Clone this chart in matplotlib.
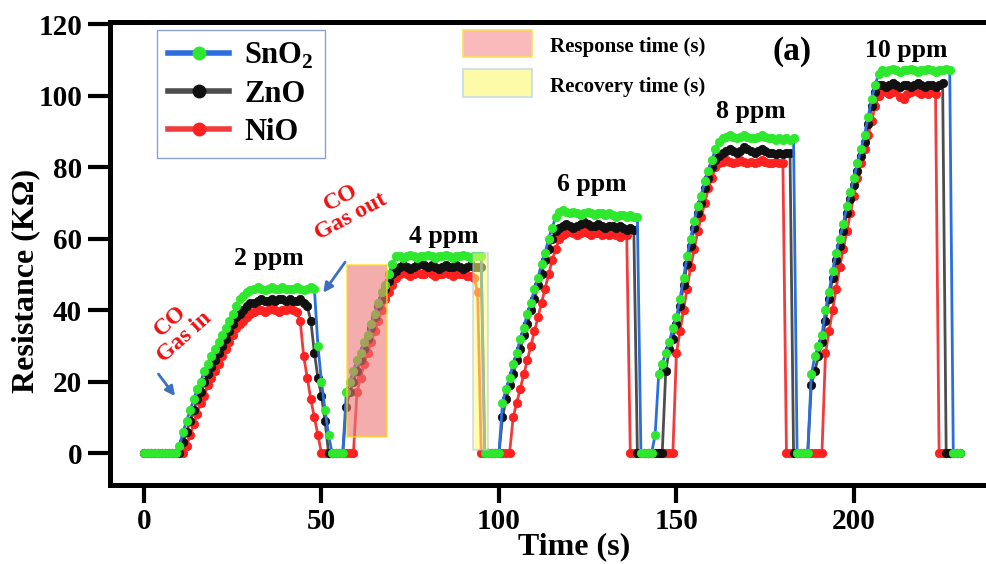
import matplotlib

matplotlib.use("Agg")
import matplotlib.pyplot as plt
import numpy as np
from matplotlib.lines import Line2D
from matplotlib.patches import Rectangle

plt.rcParams["font.family"] = ["Liberation Serif", "DejaVu Serif"]
plt.rcParams["font.weight"] = "bold"
plt.rcParams["mathtext.fontset"] = "custom"
plt.rcParams["mathtext.bf"] = "Liberation Serif:bold"
plt.rcParams["mathtext.rm"] = "Liberation Serif:bold"

# resistance (kOhm) sampled once per second, t = 0 .. 230 s
sno2 = [
    0, 0, 0, 0, 0, 0, 0, 0, 0, 0,
    2, 6, 9, 12, 15, 18, 20, 23, 25, 27,
    29, 31, 33, 35, 37, 39, 41, 43, 44, 45,
    45.5, 46, 46.5, 46, 45.5, 46, 46.5, 46, 46, 46.5,
    46, 46, 46, 46.5, 46, 45.5, 46, 46.5, 46, 30,
    20, 12, 5, 0, 0, 0, 0, 17, 20, 23,
    26, 28, 31, 33, 36, 39, 42, 45, 47, 50,
    53, 55, 55, 54.5, 55, 55.5, 55, 54.5, 55, 55,
    55.5, 55, 54.5, 55, 55, 55.5, 55, 54.5, 55, 55,
    55.5, 55, 54.5, 55, 55, 55, 0, 0, 0, 0,
    0, 14, 18, 21, 25, 28, 32, 35, 39, 42,
    46, 49, 53, 56, 60, 63, 66, 67.5, 68, 67.5,
    67, 67.5, 67, 66.5, 67, 67.5, 67, 66.5, 67, 67,
    66.5, 67, 66.5, 66, 66.5, 66.5, 66, 66.5, 66, 66,
    0, 0, 0, 0, 5, 22, 25, 28, 31, 35,
    38, 43, 49, 55, 60, 65, 69, 72, 76, 79,
    82, 85, 87, 88, 88.5, 89, 88.5, 88, 88.5, 89,
    88.5, 88, 88, 88.5, 89, 88.5, 88, 88, 87.5, 88,
    87.5, 88, 87.5, 88, 0, 0, 0, 0, 22, 27,
    30, 33, 40, 45, 51, 56, 60, 64, 69, 73,
    77, 81, 85, 89, 94, 99, 103, 106, 107, 106.5,
    107, 107.5, 107, 106.5, 107, 107, 107.5, 107, 106.5, 107,
    107, 107.5, 107, 106.5, 107, 107, 107.5, 107, 0, 0,
    0,
]
zno = [
    0, 0, 0, 0, 0, 0, 0, 0, 0, 0,
    0, 3, 6, 9, 12, 15, 17, 20, 22, 24,
    26, 28, 30, 32, 34, 36, 38, 39, 40, 41,
    42, 42, 42.5, 43, 42.5, 42.5, 43, 42.5, 43, 43,
    42.5, 43, 42.5, 42.5, 43, 42, 41, 37, 28, 21,
    16, 9, 0, 0, 0, 0, 0, 13, 17, 20,
    23, 26, 29, 32, 35, 38, 41, 43, 46, 48,
    50, 51, 52, 52.5, 52, 51.5, 52, 52.5, 53, 52.5,
    52, 52.5, 52, 51.5, 52, 52.5, 52, 52, 52.5, 52,
    51.5, 52, 52.5, 52, 52, 52, 0, 0, 0, 0,
    0, 10, 15, 19, 22, 26, 29, 33, 36, 40,
    43, 47, 50, 54, 57, 60, 62, 63, 63.5, 64,
    63.5, 63, 63.5, 64, 64.5, 64, 63.5, 63.5, 64, 63.5,
    63, 63.5, 63.5, 63, 63.5, 63, 62.5, 63, 62.5, 0,
    0, 0, 0, 0, 0, 0, 0, 23, 29, 32,
    36, 41, 47, 53, 58, 63, 67, 70, 74, 77,
    80, 82, 83, 84, 84.5, 85, 84.5, 84, 84.5, 85.5,
    85, 84.5, 84, 84.5, 85, 84.5, 84, 84, 83.5, 84,
    83.5, 84, 84, 0, 0, 0, 0, 0, 19, 23,
    27, 31, 37, 43, 49, 54, 58, 62, 67, 71,
    75, 79, 83, 87, 92, 97, 101, 103, 103, 102.5,
    103, 103.5, 103, 102.5, 103, 103, 102.5, 103, 103.5, 103,
    102.5, 103, 103, 102.5, 103, 103.5, 0, 0, 0, 0,
    0,
]
nio = [
    0, 0, 0, 0, 0, 0, 0, 0, 0, 0,
    0, 0, 2, 5, 8, 11, 14, 16, 19, 21,
    23, 25, 27, 29, 31, 33, 35, 36, 37, 38,
    39, 39.5, 40, 40, 39.5, 40, 40.5, 40, 39.5, 40,
    40, 40.5, 40, 39.5, 37, 27, 21, 15, 10, 5,
    0, 0, 0, 0, 0, 0, 0, 0, 0, 0,
    17, 21, 25, 28, 31, 34, 37, 40, 43, 45,
    47, 49, 50, 50.5, 50, 49.5, 50, 50.5, 50, 50,
    50.5, 50, 49.5, 50, 50, 50.5, 50, 49.5, 50, 50,
    50, 49.5, 49.5, 49, 45, 0, 0, 0, 0, 0,
    0, 0, 0, 0, 10, 14, 18, 22, 26, 30,
    34, 38, 42, 46, 50, 54, 57, 60, 61, 61.5,
    62, 61.5, 61, 61.5, 62, 61.5, 61, 61.5, 61.5, 61,
    61.5, 61, 61.5, 61, 60.5, 61, 61, 0, 0, 0,
    0, 0, 0, 0, 0, 0, 0, 0, 0, 0,
    28, 34, 40, 46, 52, 57, 62, 66, 70, 74,
    77, 80, 81, 81.5, 82, 81.5, 81, 81.5, 82, 81.5,
    81, 81.5, 81, 81.5, 82, 81.5, 81, 81, 81.5, 81,
    81, 0, 0, 0, 0, 0, 0, 0, 0, 0,
    0, 0, 28, 34, 40, 46, 52, 57, 62, 67,
    72, 77, 81, 85, 89, 93, 97, 100, 101.5, 101,
    100.5, 101, 101.5, 99.5, 99, 100.5, 101, 101.5, 101, 100.5,
    101, 100.5, 101, 100.5, 0, 0, 0, 0, 0, 0,
    0,
]
time_s = np.arange(len(sno2))

series_names = ["SnO$_\\mathbf{2}$", "ZnO", "NiO"]
conc_labels = ["2 ppm", "4 ppm", "6 ppm", "8 ppm", "10 ppm"]
conc_pos = [(35.2, 54.5), (84.5, 60.7), (126.2, 75.0), (171.0, 95.4), (214.6, 112.7)]

# shaded spans (t0, t1, r0, r1)
response_span = (57.2, 68.5, 4.5, 52.6)
recovery_span = (92.7, 96.9, 0.8, 56.0)

line_cols = ["#2a6fdc", "#4d4d4d", "#f03c3c"]
mark_cols = ["#2ee82e", "#111111", "#ff2020"]

fig = plt.figure(figsize=(9.87, 5.64), dpi=100)
ax = fig.add_axes([110 / 987, 1 - 485 / 564, 877 / 987, 463 / 564])

# NiO first so SnO2 ends up on top
for vals, lc, mc, z in [(nio, line_cols[2], mark_cols[2], 2),
                        (zno, line_cols[1], mark_cols[1], 3),
                        (sno2, line_cols[0], mark_cols[0], 4)]:
    ax.plot(time_s[:len(vals)], vals, color=lc, lw=2.0, marker="o", ms=6,
            mfc=mc, mec=mc, mew=0.6, zorder=z)

t0, t1, r0, r1 = response_span
ax.add_patch(Rectangle((t0, r0), t1 - t0, r1 - r0, facecolor="#ee7777", alpha=0.6,
                       edgecolor="#ffe000", lw=1.5, zorder=6))
t0, t1, r0, r1 = recovery_span
ax.add_patch(Rectangle((t0, r0), t1 - t0, r1 - r0, facecolor="#ffff70", alpha=0.55,
                       edgecolor="#a8c4d8", lw=1.2, zorder=6))

for lab, (tx, ty) in zip(conc_labels, conc_pos):
    ax.text(tx, ty, lab, ha="center", va="center", fontsize=18.5, fontweight="bold")

ax.text(182.5, 112.2, "(a)", ha="center", va="center", fontsize=24, fontweight="bold")

red = "#ee1111"
ax.text(9.3, 34.7, "CO\nGas in", rotation=42, ha="center", va="center",
        multialignment="center", color=red, fontsize=17, fontweight="bold",
        linespacing=1.0)
ax.text(56.9, 68.8, "CO\nGas out", rotation=28, ha="center", va="center",
        multialignment="center", color=red, fontsize=17, fontweight="bold",
        linespacing=1.0)
arrow_col = "#3c6fc0"
ax.annotate("", xy=(9.2, 15.3), xytext=(3.6, 22.7),
            arrowprops=dict(arrowstyle="-|>", color=arrow_col, lw=2, mutation_scale=14))
ax.annotate("", xy=(50.05, 44.2), xytext=(57.1, 54.0),
            arrowprops=dict(arrowstyle="-|>", color=arrow_col, lw=2, mutation_scale=14))

# key for the shaded spans (top middle)
ax.add_patch(Rectangle((0.4025, 0.924), 0.0787, 0.058, transform=ax.transAxes,
                       facecolor="#f9b9bb", edgecolor="#f7e15a", lw=1.2, zorder=6))
ax.add_patch(Rectangle((0.4025, 0.838), 0.0787, 0.0605, transform=ax.transAxes,
                       facecolor="#fdfaa8", edgecolor="#c8dce8", lw=1.2, zorder=6))
ax.text(0.502, 0.946, "Response time (s)", transform=ax.transAxes, ha="left",
        va="center", fontsize=15, fontweight="bold")
ax.text(0.502, 0.860, "Recovery time (s)", transform=ax.transAxes, ha="left",
        va="center", fontsize=15, fontweight="bold")

handles = [Line2D([], [], color=lc, lw=4, marker="o", ms=9, mfc=mc, mec=mc)
           for lc, mc in zip(line_cols, mark_cols)]
leg = ax.legend(handles, series_names, loc="upper left", bbox_to_anchor=(0.054, 0.983),
                borderaxespad=0, fontsize=22, frameon=True, fancybox=False,
                handlelength=2.0, handletextpad=0.5, labelspacing=0.3,
                borderpad=0.35, numpoints=1)
leg.get_frame().set_edgecolor("#6b8cc7")
leg.get_frame().set_linewidth(1.0)
for txt in leg.get_texts():
    txt.set_fontweight("bold")

ax.set_xlim(-9.58, 237.5)
ax.set_ylim(-8.95, 120.56)
ax.set_xticks([0, 50, 100, 150, 200])
ax.set_yticks([0, 20, 40, 60, 80, 100, 120])
ax.spines["right"].set_visible(False)
for s in ["left", "bottom", "top"]:
    ax.spines[s].set_linewidth(3.6)
ax.tick_params(axis="x", direction="out", length=13, width=3, pad=3.5, labelsize=21)
ax.tick_params(axis="y", direction="out", length=16, width=3, pad=4, labelsize=21)
for lab in ax.get_xticklabels() + ax.get_yticklabels():
    lab.set_fontweight("bold")

ax.set_xlabel("Time (s)", fontsize=23, fontweight="bold")
ax.set_ylabel("Resistance (K\u03a9)", fontsize=23, fontweight="bold")
ax.xaxis.set_label_coords(0.529, -0.134)
ax.xaxis.label.set_verticalalignment("center")
ax.yaxis.set_label_coords(-0.0958, 0.4406)
ax.yaxis.label.set_verticalalignment("center")

fig.savefig("out.png", dpi=100)
